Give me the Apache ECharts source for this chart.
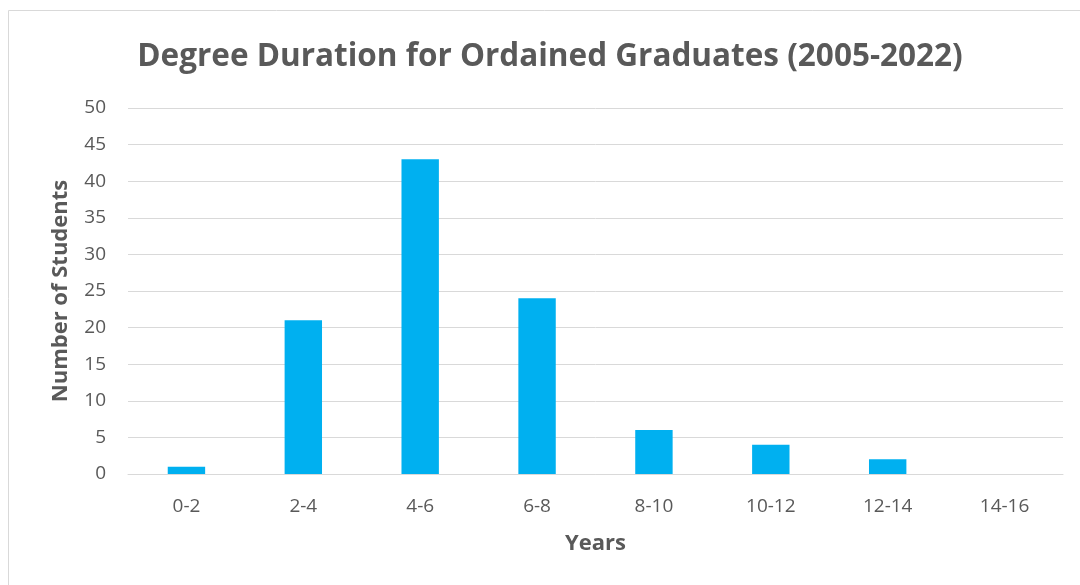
<!DOCTYPE html>
<html>
<head>
<meta charset="utf-8">
<script src="https://cdn.jsdelivr.net/npm/echarts@6/dist/echarts.min.js"></script>
<style>
  html, body { margin: 0; padding: 0; background: #fff; }
  #chart { width: 1080px; height: 585px; }
</style>
</head>
<body>
<div id="chart"></div>
<script>
const categories = ['0-2', '2-4', '4-6', '6-8', '8-10', '10-12', '12-14', '14-16']
const students = [1, 21, 43, 24, 6, 4, 2, 0]

const font = 'Open Sans, Noto Sans, sans-serif'
const chart = echarts.init(document.getElementById('chart'))
chart.setOption({
  animation: false,
  graphic: [{
    type: 'rect',
    shape: { x: 8.5, y: 10.5, width: 1100, height: 600 },
    style: { fill: 'none', stroke: '#d9d9d9', lineWidth: 1 }
  }],
  title: {
    text: 'Degree Duration for Ordained Graduates (2005-2022)',
    left: 545,
    textAlign: 'center',
    top: 36,
    textStyle: { fontFamily: font, fontSize: 31.5, fontWeight: 'bold', color: '#595959' }
  },
  grid: { left: 128, right: 17, top: 108, bottom: 111 },
  xAxis: {
    type: 'category',
    data: categories,
    name: 'Years',
    nameLocation: 'middle',
    nameGap: 59,
    nameTextStyle: { fontFamily: font, fontSize: 22, fontWeight: 'bold', color: '#595959' },
    axisLine: { show: true, lineStyle: { color: '#d9d9d9', width: 1 } },
    axisTick: { show: false },
    axisLabel: { fontFamily: font, fontSize: 19, color: '#595959', margin: 23 }
  },
  yAxis: {
    type: 'value',
    min: 0,
    max: 50,
    interval: 5,
    name: 'Number of Students',
    nameLocation: 'middle',
    nameGap: 56,
    nameTextStyle: { fontFamily: font, fontSize: 22, fontWeight: 'bold', color: '#595959' },
    axisLine: { show: false },
    axisTick: { show: false },
    axisLabel: { fontFamily: font, fontSize: 19, color: '#595959', margin: 22 },
    splitLine: { lineStyle: { color: '#d9d9d9', width: 1 } }
  },
  series: [{
    type: 'bar',
    data: students,
    barWidth: '32%',
    itemStyle: { color: '#00b0f0' }
  }]
})
</script>
</body>
</html>
